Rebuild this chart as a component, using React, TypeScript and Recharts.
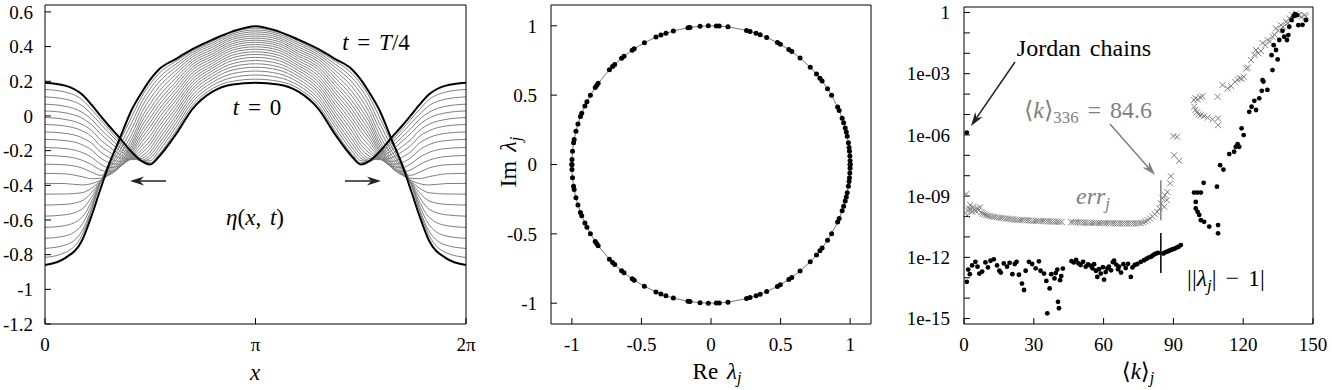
import React from "react";
import { LineChart, Line, XAxis, YAxis, ScatterChart, Scatter, ReferenceLine } from "recharts";

const PI = Math.PI;
const serif = "Liberation Serif, Tinos, Times New Roman, Times, DejaVu Serif, Noto Serif, FreeSerif, serif";
const GREY = "#808080";

// ---------- left panel: eta(x, t), read on half a period (picture is symmetric about x = pi)
const etaX = [0, 0.3, 0.55, 0.7, 0.82, 0.95, 1.1, 1.3, 1.45, 1.57, 1.7, 1.95, 2.2, 2.5, 2.8, PI];
const etaStart = [0.191, 0.175, 0.125, 0.062, 0.005, -0.055, -0.12, -0.21, -0.262, -0.28, -0.235, -0.108, 0.04, 0.14, 0.182, 0.191];
const etaQuarter = [-0.86, -0.82, -0.72, -0.57, -0.43, -0.285, -0.145, 0.04, 0.14, 0.21, 0.268, 0.328, 0.385, 0.44, 0.488, 0.518];
const etaSteps = [
  [0.153, 0.138, 0.095, 0.035, -0.018, -0.075, -0.14, -0.22, -0.262, -0.27, -0.222, -0.088, 0.06, 0.158, 0.2, 0.212],
  [0.11, 0.097, 0.06, 0.008, -0.042, -0.095, -0.155, -0.228, -0.262, -0.258, -0.203, -0.066, 0.08, 0.176, 0.222, 0.236],
  [0.068, 0.056, 0.022, -0.022, -0.072, -0.12, -0.175, -0.235, -0.26, -0.244, -0.182, -0.044, 0.1, 0.194, 0.244, 0.259],
  [0.029, 0.018, -0.012, -0.052, -0.1, -0.145, -0.195, -0.242, -0.255, -0.227, -0.16, -0.022, 0.12, 0.212, 0.265, 0.281],
  [-0.009, -0.02, -0.048, -0.085, -0.135, -0.175, -0.218, -0.25, -0.245, -0.208, -0.137, 0.0, 0.14, 0.229, 0.284, 0.301],
  [-0.049, -0.058, -0.085, -0.12, -0.17, -0.205, -0.24, -0.252, -0.23, -0.187, -0.113, 0.022, 0.158, 0.245, 0.302, 0.32],
  [-0.092, -0.1, -0.125, -0.158, -0.205, -0.238, -0.262, -0.248, -0.212, -0.165, -0.088, 0.044, 0.176, 0.261, 0.32, 0.338],
  [-0.135, -0.142, -0.165, -0.198, -0.24, -0.268, -0.278, -0.243, -0.193, -0.142, -0.063, 0.066, 0.194, 0.276, 0.336, 0.355],
  [-0.182, -0.188, -0.21, -0.24, -0.275, -0.298, -0.29, -0.236, -0.17, -0.116, -0.038, 0.088, 0.212, 0.29, 0.351, 0.37],
  [-0.228, -0.234, -0.255, -0.282, -0.31, -0.322, -0.298, -0.226, -0.147, -0.089, -0.013, 0.11, 0.23, 0.304, 0.366, 0.385],
  [-0.278, -0.282, -0.3, -0.325, -0.342, -0.338, -0.302, -0.213, -0.125, -0.063, 0.012, 0.132, 0.248, 0.318, 0.38, 0.399],
  [-0.331, -0.334, -0.35, -0.362, -0.36, -0.342, -0.298, -0.2, -0.103, -0.038, 0.037, 0.153, 0.265, 0.332, 0.393, 0.412],
  [-0.389, -0.39, -0.398, -0.39, -0.372, -0.34, -0.29, -0.186, -0.08, -0.012, 0.062, 0.175, 0.281, 0.345, 0.406, 0.425],
  [-0.451, -0.45, -0.443, -0.415, -0.378, -0.335, -0.28, -0.17, -0.055, 0.015, 0.087, 0.196, 0.297, 0.358, 0.418, 0.437],
  [-0.514, -0.51, -0.49, -0.44, -0.382, -0.328, -0.268, -0.152, -0.03, 0.042, 0.113, 0.218, 0.312, 0.371, 0.43, 0.449],
  [-0.578, -0.57, -0.538, -0.465, -0.385, -0.32, -0.252, -0.13, -0.005, 0.07, 0.14, 0.24, 0.326, 0.384, 0.442, 0.461],
  [-0.643, -0.632, -0.585, -0.49, -0.387, -0.31, -0.232, -0.103, 0.025, 0.1, 0.168, 0.26, 0.34, 0.397, 0.453, 0.473],
  [-0.706, -0.692, -0.628, -0.51, -0.389, -0.3, -0.21, -0.07, 0.055, 0.13, 0.195, 0.28, 0.353, 0.41, 0.464, 0.485],
  [-0.764, -0.745, -0.665, -0.53, -0.39, -0.29, -0.185, -0.035, 0.085, 0.158, 0.22, 0.298, 0.365, 0.422, 0.474, 0.496],
  [-0.816, -0.788, -0.69, -0.54, -0.392, -0.275, -0.16, 0.0, 0.115, 0.185, 0.245, 0.315, 0.375, 0.432, 0.482, 0.507],
];
const etaTicks = [-1.2, -1, -0.8, -0.6, -0.4, -0.2, 0, 0.2, 0.4, 0.6];

// ---------- middle panel: eigenvalue arguments (degrees), upper half; the rest are conjugates
const eigAngles = [
  0, 1.5, 3.5, 5.5, 7, 9, 11.8, 13.5, 15.3, 17.5, 19.5, 22.9, 24.5, 29.9, 33.1, 37, 38.5, 40.7, 44.5,
  50.2, 54.5, 56, 60.1, 61.5, 66.4, 69.3, 71.1, 73.7, 75.2, 83, 86.6, 87.8, 91.1, 94.5, 98.7, 99.5,
  105.7, 108.9, 111.1, 113.3, 118.6, 123.5, 124.5, 128.7, 130, 133.8, 135, 136.9, 144.2, 145.2, 146.3,
  150.1, 153.1, 155, 158.3, 159.8, 163, 166.1, 169.6, 171, 174.5, 177.9, 180,
];
const unitTicks = [-1, -0.5, 0, 0.5, 1];

// ---------- right panel: [<k>_j, value]
const lamPoints = [
  [1.2, 1.3e-6],
  [1.2, 6.3e-14], [1.8, 2.5e-13], [2.5, 1.5e-13], [3.5, 4e-13], [4.9, 6e-13], [5.8, 3.5e-13], [6.6, 1.6e-13],
  [7.8, 2e-13], [9.2, 5.6e-13], [10.3, 3.2e-13], [11.4, 6.8e-13], [12.8, 8e-13], [14.2, 4e-13], [15.2, 2.2e-13],
  [15.8, 1.8e-13], [17.1, 5e-13], [18.5, 3.5e-13], [19.6, 5.4e-13], [20.8, 1.5e-13], [21.8, 4.7e-13], [22.6, 6e-13],
  [23.6, 1.4e-13], [24.9, 5.2e-14], [25.8, 2.5e-14], [26.5, 2.2e-13], [27.9, 6e-13], [29.3, 4.7e-13], [30.8, 2.9e-13],
  [32.2, 6.4e-13], [32.9, 2.2e-13], [34.4, 1.6e-13], [35.4, 7e-14], [35.8, 1.8e-15], [36.8, 3e-14], [37.5, 1.5e-13],
  [38.9, 9.3e-14], [39.4, 1.7e-13], [40.1, 2.5e-13], [40.4, 6.6e-15], [40.8, 3.2e-15], [41.3, 7.6e-14], [41.8, 1.2e-13],
  [42.5, 2.8e-13], [46.2, 6.5e-13], [47.2, 5.6e-13], [48.2, 7.5e-13], [49.2, 5e-13], [50.1, 4.2e-13], [51.2, 6e-13],
  [52.3, 3.5e-13], [53.3, 4.5e-13], [54.4, 3.9e-13], [55.2, 2.9e-13], [55.9, 4.6e-13], [56.7, 2.2e-13], [57.3, 1.1e-13],
  [58, 2.6e-13], [58.8, 1.6e-13], [59.7, 3.3e-13], [60.2, 8e-14], [60.9, 1.9e-13], [61.6, 2.9e-13], [62.3, 3.5e-13],
  [63.2, 2.3e-13], [64, 5.8e-13], [64.5, 6.8e-13], [65.4, 4.4e-13], [66.2, 2.6e-13], [66.6, 3.5e-13], [67.5, 1.8e-13],
  [68.5, 4.6e-13], [69.5, 3e-13], [70.5, 4.8e-13], [71.7, 1.1e-13], [72.4, 3.2e-13], [73.4, 4.2e-13], [74.5, 4.7e-13],
  [76, 6e-13], [77.4, 7.2e-13], [78.5, 8.5e-13], [79.6, 1e-12], [80.6, 1.1e-12], [81.4, 1.3e-12], [82.4, 1.5e-12],
  [83.4, 1.65e-12], [85.7, 1.55e-12], [86.5, 1.75e-12], [87.3, 1.9e-12], [88.2, 2.1e-12], [89.0, 2.3e-12],
  [89.8, 2.5e-12], [90.6, 2.7e-12], [91.4, 3e-12], [92.2, 3.3e-12], [93.2, 4e-12],
  [98.9, 1.5e-9], [100.3, 1.5e-9], [101.8, 1.5e-9], [103, 4.5e-9], [99.6, 5.2e-10], [99.6, 2.5e-10], [100.4, 1.7e-10],
  [101.1, 1.2e-10], [101.8, 6.6e-11], [103.2, 5.5e-11], [105.4, 3.2e-11], [109.2, 3.8e-11], [109.2, 1.5e-11], [108.7, 2.9e-9],
  [110.1, 3.3e-8], [111.5, 2e-8], [114, 1.15e-7], [116.1, 1.5e-7], [116.8, 2.6e-7], [117.6, 3.5e-7], [118.3, 2.6e-7],
  [119.3, 2.1e-6], [120.2, 9.8e-7], [122.6, 1.35e-5], [123.6, 2.4e-5], [124.8, 4.7e-5], [125.5, 1.66e-5], [126.9, 6.2e-5],
  [128, 1.45e-4], [128.3, 4.9e-4], [128.7, 4.1e-4], [130.4, 1.6e-4], [132.6, 1.5e-3], [132.2, 8.1e-3], [133.1, 2.5e-2],
  [134.1, 1.45e-2], [134.8, 5e-3], [135.5, 4.5e-2], [136.9, 0.126], [137.6, 6.5e-2], [138.8, 4.5e-2], [139.4, 7.8e-2],
  [139.8, 0.2], [140.8, 0.43], [141.7, 0.66], [142.2, 0.83], [143.1, 0.74], [143.7, 0.24], [145.5, 0.25], [147, 0.42],
];
const errPoints = [
  [1.0, 1.26e-9], [1.4, 1.17e-10], [1.8, 2e-10], [2.2, 2.5e-10], [2.6, 3.6e-10], [3.0, 2.2e-10], [3.5, 1.7e-10],
  [4.0, 3e-10], [4.4, 2.2e-10], [5.0, 1.8e-10], [5.7, 2.5e-10], [6.3, 2e-10], [6.8, 2.8e-10], [7.4, 1.6e-10],
  [7.9, 1.4e-10], [8.6, 1.3e-10], [9.4, 1.2e-10], [10.2, 1.1e-10], [11, 1.05e-10], [12, 1e-10], [13, 9.5e-11],
  [14, 9.2e-11], [15, 8.8e-11], [16, 8.5e-11], [17, 8.2e-11], [18, 8e-11], [19, 7.8e-11], [20, 7.4e-11],
  [21, 7.2e-11], [22, 7e-11], [23, 6.9e-11], [24, 6.8e-11], [25, 6.7e-11], [26, 6.6e-11], [27, 6.5e-11],
  [28, 6.4e-11], [29, 6.3e-11], [30, 6.2e-11], [31, 6.1e-11], [32, 6e-11], [33, 6e-11], [34, 5.9e-11],
  [35, 5.8e-11], [36, 5.8e-11], [37, 5.7e-11], [38, 5.7e-11], [39, 5.6e-11], [40, 5.6e-11], [41, 5.5e-11],
  [42, 5.5e-11], [46, 5.3e-11], [47, 5.3e-11], [48, 5.2e-11], [49, 5.2e-11], [50, 5.1e-11], [51, 5.1e-11],
  [52, 5e-11], [53, 5e-11], [54, 5e-11], [55, 4.9e-11], [56, 4.9e-11], [57, 4.9e-11], [58, 4.8e-11],
  [59, 4.8e-11], [60, 4.8e-11], [61, 4.7e-11], [62, 4.7e-11], [63, 4.7e-11], [64, 4.7e-11], [65, 4.6e-11],
  [66, 4.6e-11], [67, 4.6e-11], [68, 4.6e-11], [69, 4.6e-11], [70, 4.6e-11], [71, 4.6e-11], [72, 4.6e-11],
  [73, 4.6e-11], [74, 4.6e-11], [75, 4.7e-11], [76, 4.8e-11], [77, 5.2e-11], [78, 5.8e-11], [79, 6.6e-11],
  [80, 8e-11], [81, 1e-10], [82, 1.3e-10], [83, 1.7e-10], [84, 2.5e-10],
  [84.6, 4.4e-10], [85.3, 7.8e-10], [86.1, 3e-10], [86.3, 1.1e-9], [87.2, 6.3e-10], [87.4, 1.6e-9],
  [88.6, 4.2e-9], [88.9, 9.5e-9], [90.3, 1e-7], [92.5, 5.4e-8], [90.0, 8.7e-7], [91.6, 8.1e-7],
  [98.8, 5.1e-5], [99.5, 6.3e-5], [100.5, 5.5e-5], [101.5, 7.1e-5], [102.5, 7.9e-5], [99.0, 2.4e-5], [99.5, 1.7e-5],
  [100.2, 1.3e-5], [100.8, 1e-5], [101.8, 9.3e-6], [103.2, 8.3e-6], [104.7, 7.1e-6], [106.8, 5.8e-6], [109.2, 6.5e-6],
  [109.2, 3e-6], [109, 7.4e-5], [111.1, 2.8e-4], [113.3, 1.9e-4], [114.8, 2.5e-4], [116.5, 4e-4], [117.5, 5e-4],
  [118.5, 6e-4], [119.3, 5.7e-4], [120.2, 7e-4], [121.3, 1.8e-3], [122, 2e-3], [123.4, 4.7e-3], [124.8, 8.3e-3],
  [125.5, 1.45e-2], [126.5, 1e-2], [127.6, 1.3e-2], [128.3, 3.2e-2], [129.5, 2.5e-2], [130.5, 4.5e-2], [131.5, 3.8e-2],
  [132.6, 6.5e-2], [133.5, 8e-2], [134.1, 0.166], [135, 0.13], [136.2, 0.24], [137.2, 0.2], [138.4, 0.35],
  [139.2, 0.3], [139.8, 0.51], [140.5, 0.45], [141.2, 0.74], [142.7, 0.91], [143.5, 0.75], [144.1, 0.74],
  [145, 0.6], [146.3, 0.74], [147, 0.65],
];
const kTicks = [0, 30, 60, 90, 120, 150];
const decadeTicks = [1e-15, 1e-14, 1e-13, 1e-12, 1e-11, 1e-10, 1e-9, 1e-8, 1e-7, 1e-6, 1e-5, 1e-4, 1e-3, 1e-2, 1e-1, 1];

// ---------- tables for the library
const etaCurves = [...etaSteps, etaStart, etaQuarter];
const half = etaX.length;
const fullX = [...etaX, ...etaX.slice(0, -1).reverse().map((x) => 2 * PI - x)];
const etaData = fullX.map((x, i) => {
  const j = i < half ? i : 2 * half - 2 - i;
  const row: Record<string, number> = { x };
  etaCurves.forEach((c, k) => (row["c" + k] = c[j]));
  return row;
});

const eigAll = [...eigAngles, ...eigAngles.map((a) => -a)];
const eigData = eigAll.map((a) => ({ re: Math.cos((a * PI) / 180), im: Math.sin((a * PI) / 180) }));
const circleData = [...eigAll]
  .sort((a, b) => a - b)
  .map((a) => ({ re: Math.cos((a * PI) / 180), im: Math.sin((a * PI) / 180) }));

const lamData = lamPoints.map(([k, v]) => ({ k, v }));
const errData = errPoints.map(([k, v]) => ({ k, v }));

const tickFont = { fontSize: 19, fill: "#000", fontFamily: serif };
const line = { stroke: "#000" };

function piLabel(v: number) {
  if (v === 0) return "0";
  return Math.abs(v - PI) < 1e-9 ? "π" : "2π";
}

function decadeLabel(v: number) {
  const e = Math.round(Math.log10(v));
  if (e % 3 !== 0) return "";
  if (e === 0) return "1";
  return "1e-" + String(-e).padStart(2, "0");
}

function Note({ x, y, size = 23, color = "#000", rotate = 0, children }: any) {
  return (
    <div
      style={{
        position: "absolute",
        left: x,
        top: y,
        transform: `translate(-50%, -50%) rotate(${rotate}deg)`,
        fontFamily: serif,
        fontSize: size,
        color,
        whiteSpace: "nowrap",
        lineHeight: 1,
        wordSpacing: 3,
      }}
    >
      {children}
    </div>
  );
}

const sub = { fontSize: "0.7em", verticalAlign: "-0.3em", lineHeight: 0 };

function Arrow({ x1, y1, x2, y2, color }: any) {
  const a = Math.atan2(y2 - y1, x2 - x1);
  const L = 14;
  const W = 4.5;
  const bx = x2 - L * Math.cos(a);
  const by = y2 - L * Math.sin(a);
  const nx = -Math.sin(a);
  const ny = Math.cos(a);
  const mx = x2 - 0.7 * L * Math.cos(a);
  const my = y2 - 0.7 * L * Math.sin(a);
  return (
    <g>
      <line x1={x1} y1={y1} x2={mx} y2={my} stroke={color} strokeWidth={1.5} />
      <path d={`M${x2},${y2} L${bx + W * nx},${by + W * ny} L${mx},${my} L${bx - W * nx},${by - W * ny} Z`} fill={color} />
    </g>
  );
}

function EtaPanel() {
  return (
    <LineChart width={480} height={390} data={etaData} margin={{ top: 4, right: 13, bottom: 0, left: 0 }}>
      <XAxis dataKey="x" type="number" domain={[0, 2 * PI]} allowDataOverflow ticks={[0, PI, 2 * PI]} interval={0}
        tickFormatter={piLabel} height={66} stroke="#000" tickLine={line} tickSize={-6} tickMargin={20} tick={tickFont} />
      <XAxis xAxisId="top" orientation="top" type="number" domain={[0, 2 * PI]} allowDataOverflow ticks={[0, PI, 2 * PI]}
        interval={0} height={1} stroke="#000" tickLine={line} tickSize={-6} tick={false} />
      <YAxis type="number" domain={[-1.2, 0.64]} allowDataOverflow ticks={etaTicks} interval={0} width={45}
        stroke="#000" tickLine={line} tickSize={-6} tickMargin={18} tick={tickFont} />
      <YAxis yAxisId="right" orientation="right" type="number" domain={[-1.2, 0.64]} allowDataOverflow ticks={etaTicks}
        interval={0} width={1} stroke="#000" tickLine={line} tickSize={-6} tick={false} />
      {etaCurves.map((_, k) => {
        const thick = k >= etaSteps.length;
        return (
          <Line key={k} dataKey={"c" + k} type="monotone" dot={false} isAnimationActive={false}
            stroke={thick ? "#000" : GREY} strokeWidth={thick ? 2 : 1} />
        );
      })}
    </LineChart>
  );
}

function EigPanel() {
  return (
    <ScatterChart width={400} height={390} margin={{ top: 4, right: 8, bottom: 0, left: 0 }}>
      <XAxis dataKey="re" type="number" domain={[-1.15, 1.15]} allowDataOverflow ticks={unitTicks} interval={0}
        height={66} stroke="#000" tickLine={line} tickSize={-6} tickMargin={20} tick={tickFont} />
      <XAxis xAxisId="top" orientation="top" type="number" domain={[-1.15, 1.15]} allowDataOverflow ticks={unitTicks}
        interval={0} height={1} stroke="#000" tickLine={line} tickSize={-6} tick={false} />
      <YAxis dataKey="im" type="number" domain={[-1.15, 1.15]} allowDataOverflow ticks={unitTicks} interval={0}
        width={71} stroke="#000" tickLine={line} tickSize={-6} tickMargin={20} tick={tickFont} />
      <YAxis yAxisId="right" orientation="right" type="number" domain={[-1.15, 1.15]} allowDataOverflow ticks={unitTicks}
        interval={0} width={1} stroke="#000" tickLine={line} tickSize={-6} tick={false} />
      <Scatter data={circleData} line={{ stroke: "#777", strokeWidth: 1 }} shape={() => null} isAnimationActive={false} />
      <Scatter data={eigData} isAnimationActive={false}
        shape={(p: any) => <circle cx={p.cx} cy={p.cy} r={2.5} fill="#000" />} />
    </ScatterChart>
  );
}

function ErrPanel() {
  const logDomain = [5.4e-16, 1.86];
  return (
    <ScatterChart width={432} height={390} margin={{ top: 6, right: 18, bottom: 0, left: 0 }}>
      <XAxis dataKey="k" type="number" domain={[0, 150]} allowDataOverflow ticks={kTicks} interval={0}
        height={66} stroke="#000" tickLine={line} tickSize={-6} tickMargin={20} tick={tickFont} />
      <XAxis xAxisId="top" orientation="top" type="number" domain={[0, 150]} allowDataOverflow ticks={kTicks}
        interval={0} height={1} stroke="#000" tickLine={line} tickSize={-6} tick={false} />
      <YAxis dataKey="v" type="number" scale="log" domain={logDomain} allowDataOverflow ticks={decadeTicks} interval={0}
        tickFormatter={decadeLabel} width={64} stroke="#000" tickLine={line} tickSize={-6} tickMargin={20} tick={tickFont} />
      <YAxis yAxisId="right" orientation="right" type="number" scale="log" domain={logDomain} allowDataOverflow
        ticks={decadeTicks} interval={0} width={1} stroke="#000" tickLine={line} tickSize={-6} tick={false} />
      <ReferenceLine segment={[{ x: 84.6, y: 6e-9 }, { x: 84.6, y: 6.6e-11 }]} stroke={GREY} strokeWidth={1.5} />
      <ReferenceLine segment={[{ x: 84.6, y: 1.55e-11 }, { x: 84.6, y: 1.7e-13 }]} stroke="#000" strokeWidth={1.5} />
      <Scatter data={errData} isAnimationActive={false}
        shape={(p: any) => (
          <path d={`M${p.cx - 3},${p.cy - 3}L${p.cx + 3},${p.cy + 3}M${p.cx - 3},${p.cy + 3}L${p.cx + 3},${p.cy - 3}`}
            stroke={GREY} strokeWidth={1} />
        )} />
      <Scatter data={lamData} isAnimationActive={false}
        shape={(p: any) => <circle cx={p.cx} cy={p.cy} r={2.4} fill="#000" />} />
    </ScatterChart>
  );
}

export default function App() {
  return (
    <div style={{ position: "absolute", left: 0, top: 0, width: 1332, height: 390, background: "#fff", overflow: "hidden", fontFamily: serif }}>
      <div style={{ position: "absolute", left: 0, top: 0 }}>
        <EtaPanel />
      </div>
      <div style={{ position: "absolute", left: 480, top: 0 }}>
        <EigPanel />
      </div>
      <div style={{ position: "absolute", left: 900, top: 0 }}>
        <ErrPanel />
      </div>

      <svg width={1332} height={390} style={{ position: "absolute", left: 0, top: 0, pointerEvents: "none" }}>
        <Arrow x1={166} y1={181} x2={130} y2={181} color="#222" />
        <Arrow x1={345} y1={181} x2={381} y2={181} color="#222" />
        <Arrow x1={1015} y1={62} x2={971} y2={126} color="#222" />
        <Arrow x1={1110} y1={124} x2={1155} y2={175} color={GREY} />
      </svg>

      <Note x={376} y={42}><i>t</i> = <i>T</i>/4</Note>
      <Note x={257} y={107}><i>t</i> = 0</Note>
      <Note x={255} y={217}><i>η</i>(<i>x</i>, <i>t</i>)</Note>
      <Note x={255} y={372}><i>x</i></Note>

      <Note x={508} y={162} size={24} rotate={-90}>Im <i>λ</i><span style={sub}><i>j</i></span></Note>
      <Note x={717} y={371} size={23}>Re <i>λ</i><span style={sub}><i>j</i></span></Note>

      <Note x={1084} y={48} size={24}>Jordan chains</Note>
      <Note x={1088} y={110} size={24} color={GREY}>⟨<i>k</i>⟩<span style={sub}>336</span> = 84.6</Note>
      <Note x={1093} y={196} size={24} color={GREY}><i>err</i><span style={sub}><i>j</i></span></Note>
      <Note x={1226} y={278} size={24}>||<i>λ</i><span style={sub}><i>j</i></span>| − 1|</Note>
      <Note x={1138} y={371} size={23}>⟨<i>k</i>⟩<span style={sub}><i>j</i></span></Note>
    </div>
  );
}
